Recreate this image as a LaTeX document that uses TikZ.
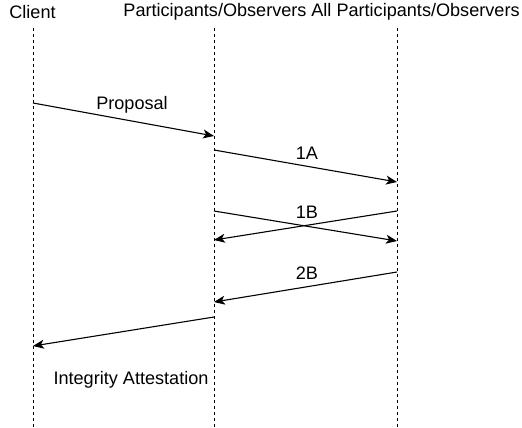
\documentclass[tikz,border=0pt]{standalone}
\usepackage{fontspec}
\setmainfont{Liberation Sans}
\usetikzlibrary{arrows.meta}

\tikzset{
  lifeline/.style={line width=1pt, dash pattern=on 3pt off 3pt},
  msg/.style={line width=1.1pt, -{Stealth[length=11pt,width=9pt,inset=3pt]}},
  lbl/.style={inner sep=0pt, font=\fontsize{18.1}{20}\selectfont}
}

\begin{document}
\begin{tikzpicture}[x=1pt,y=-1pt]
    \useasboundingbox (0,0) rectangle (522,428);
    % headers:
    \node [lbl] (client) at (32.5,12) {Client};
    \node [lbl] (parts) at (215,12) {Participants/Observers};
    \node [lbl] (allparts) at (415.5,12) {All Participants/Observers};
    % lifelines:
    \coordinate (cTop) at (33,28);   \coordinate (cBot) at (33,428);
    \coordinate (pTop) at (214,28);  \coordinate (pBot) at (214,428);
    \coordinate (aTop) at (397,28);  \coordinate (aBot) at (397,428);
    \draw [lifeline] (cTop) -- (cBot);
    \draw [lifeline] (pTop) -- (pBot);
    \draw [lifeline] (aTop) -- (aBot);
    % proposal:
    \coordinate (c1) at (33,103);  \coordinate (p1) at (214,136);
    \draw [msg] (c1) -- (p1);
    \node [lbl] (proposal) at (132,105) {Proposal};
    % 1A:
    \coordinate (p2) at (214,150); \coordinate (a2) at (397,182);
    \draw [msg] (p2) -- (a2);
    \node [lbl] (oneA) at (307,153) {1A};
    % 1B:
    \coordinate (p3) at (214,211); \coordinate (a3) at (397,241);
    \coordinate (a4) at (397,211); \coordinate (p4) at (214,240);
    \draw [msg] (p3) -- (a3);
    \draw [msg] (a4) -- (p4);
    \node [lbl] (oneB) at (307,212) {1B};
    % 2B:
    \coordinate (a5) at (397,272); \coordinate (p5) at (214,302);
    \draw [msg] (a5) -- (p5);
    \node [lbl] (twoB) at (307,273) {2B};
    % attestation:
    \coordinate (p6) at (214,317); \coordinate (c6) at (33,346);
    \draw [msg] (p6) -- (c6);
    \node [lbl] (attest) at (131,380) {Integrity Attestation};
\end{tikzpicture}
\end{document}
